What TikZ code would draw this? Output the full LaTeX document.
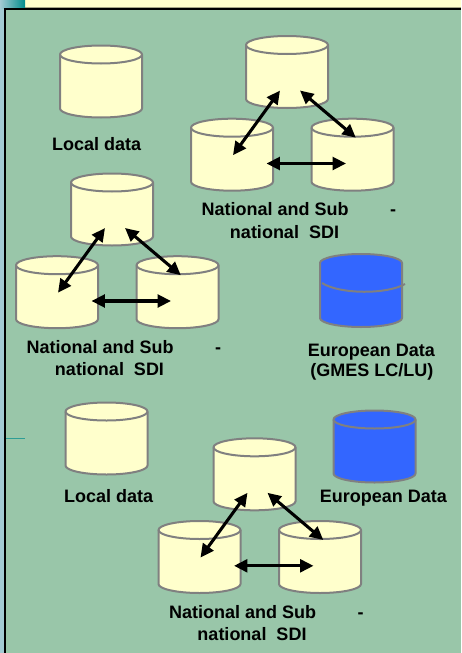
\documentclass[tikz,border=0pt]{standalone}
\usepackage{xcolor}
\usepackage{fontspec}
\setmainfont{Liberation Sans}
\usetikzlibrary{arrows.meta,calc}
\definecolor{panelgreen}{HTML}{99C6A9}
\definecolor{paleyellow}{HTML}{FFFFCC}
\definecolor{sideblue}{HTML}{A3CBD3}
\definecolor{darkteal}{HTML}{008C8C}
\definecolor{dbblue}{HTML}{3366FF}
\definecolor{dbgray}{HTML}{808080}
\tikzset{
  dbline/.style={draw=dbgray,line width=1.5pt},
  pics/dbcyl/.style={code={
    \draw[dbline,fill=#1] (-41,-27) arc[x radius=41,y radius=9,start angle=180,end angle=360]
      -- (41,27) arc[x radius=41,y radius=9,start angle=0,end angle=180] -- cycle;
    \draw[dbline] (-41,-27) arc[x radius=41,y radius=9,start angle=180,end angle=0];
  }},
  pics/dbcyl/.default=paleyellow,
  dbarrow/.style={{Triangle[length=10pt,width=9.5pt]}-{Triangle[length=10pt,width=9.5pt]},line width=2.3pt},
  lbl/.style={font=\fontsize{13.5}{16}\selectfont\bfseries,inner sep=0pt,outer sep=0pt}
}
\begin{document}
\begin{tikzpicture}[x=0.75pt,y=-0.75pt]
  \useasboundingbox (0,0) rectangle (461,653);

  % Slide background
  \fill[panelgreen] (0,0) rectangle (461,653);
  \fill[sideblue] (0,0) rectangle (4,653);
  \fill[paleyellow] (25,0) rectangle (461,7);
  \fill[black!35!paleyellow] (25,7) rectangle (461,8);
  \shade[left color=sideblue,right color=darkteal] (0,0) rectangle (25,8);
  \draw[line width=1.9pt] (5,653) -- (5,9.2) -- (461,9.2);
  \draw[darkteal!70!panelgreen,line width=0.6pt] (6,438) -- (25,438);

  % Three linked stores
  \foreach \n/\tx/\ty in {a/287/72,b/112/209.5,c/254.5/474.3} {
    \coordinate (top\n) at (\tx,\ty);
    \coordinate (left\n) at ($(top\n)+(-55,82.7)$);
    \coordinate (right\n) at ($(top\n)+(65.5,82.7)$);
    \pic at (top\n) {dbcyl};
    \pic at (left\n) {dbcyl};
    \pic at (right\n) {dbcyl};
    \draw[dbarrow] ($(top\n)+(-7,18.5)$) -- ($(left\n)+(1,0.5)$);
    \draw[dbarrow] ($(top\n)+(13,18.5)$) -- ($(right\n)+(3.3,-17)$);
    \draw[dbarrow] ($(left\n)+(34.5,8.8)$) -- ($(right\n)+(-6.5,8.8)$);
    \node[lbl,anchor=base west] (nat\n) at ($(top\n)+(-85.3,143.7)$) {National and Sub};
    \node[lbl,anchor=base] (dash\n) at ($(top\n)+(106,143.7)$) {-};
    \node[lbl,anchor=base] (sdi\n) at ($(top\n)+(-2.5,166)$) {national\ \ SDI};
  }

  % Local data
  \coordinate (locala) at (101,81.5);
  \pic at (locala) {dbcyl};
  \node[lbl,anchor=base] (loctexta) at (96.7,150) {Local data};
  \coordinate (localb) at (106.5,438.5);
  \pic at (localb) {dbcyl};
  \node[lbl,anchor=base] (loctextb) at (108.7,502.7) {Local data};

  % European data
  \draw[dbline,fill=dbblue] (320,263) arc[x radius=41,y radius=9,start angle=180,end angle=360]
    -- (402,318) arc[x radius=41,y radius=9,start angle=0,end angle=180] -- cycle;
  \draw[dbline] (322,283) .. controls (340,294.5) and (387,294.5) .. (405,284);
  \node[lbl,anchor=base] (eutexta) at (371.3,356.7) {European Data};
  \node[lbl,anchor=base] (eutextb) at (371.8,376.7) {(GMES LC/LU)};
  \coordinate (eucyl) at (374.5,446.5);
  \pic at (eucyl) {dbcyl=dbblue};
  \node[lbl,anchor=base] (eutextc) at (383.3,502.7) {European Data};
\end{tikzpicture}
\end{document}
